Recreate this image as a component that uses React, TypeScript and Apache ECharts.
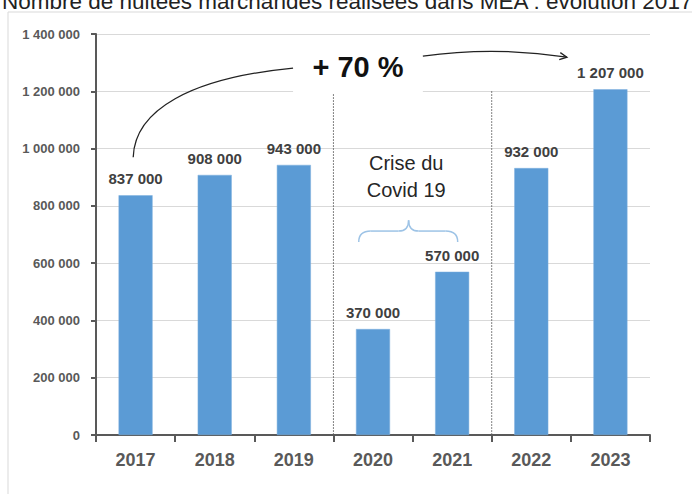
import React, { useEffect, useRef } from "react";
import * as echarts from "echarts";

const years = ["2017", "2018", "2019", "2020", "2021", "2022", "2023"];
const nuitees = [837000, 908000, 943000, 370000, 570000, 932000, 1207000];
const yMax = 1400000;
const yStep = 200000;
const titleText = "Nombre de nuitées marchandes réalisées dans MEA : évolution 2017";
const growthText = "+ 70 %";
const crisisLines = ["Crise du", "Covid 19"];

const fmt = (v: number) => String(v).replace(/\B(?=(\d{3})+(?!\d))/g, " ");
const FONT = "'Liberation Sans', Arial, sans-serif";

export default function App() {
  const ref = useRef<HTMLDivElement>(null);
  useEffect(() => {
    if (!ref.current) return;
    const chart = echarts.init(ref.current, null, { renderer: "svg" });
    chart.setOption({
      animation: false,
      backgroundColor: "#ffffff",
      grid: { left: 96, right: 42, top: 34, bottom: 59, containLabel: false },
      xAxis: {
        type: "category",
        data: years,
        boundaryGap: true,
        axisLine: { lineStyle: { color: "#595959", width: 2 } },
        axisTick: { show: true, alignWithLabel: false, length: 7, lineStyle: { color: "#595959", width: 2 } },
        axisLabel: { margin: 16, color: "#595959", fontSize: 18, fontWeight: "bold", fontFamily: FONT },
        splitLine: { show: false },
      },
      yAxis: {
        type: "value",
        min: 0,
        max: yMax,
        interval: yStep,
        axisLine: { show: true, lineStyle: { color: "#595959", width: 2 } },
        axisTick: { show: true, length: 5, lineStyle: { color: "#595959", width: 2 } },
        axisLabel: { margin: 16, color: "#595959", fontSize: 13, fontWeight: "bold", fontFamily: FONT, formatter: (v: number) => fmt(v) },
        splitLine: { show: true, lineStyle: { color: "#d9d9d9", width: 1 } },
      },
      series: [
        {
          type: "bar",
          data: nuitees,
          barWidth: "43%",
          itemStyle: { color: "#5b9bd5", borderColor: "#7eb0de", borderWidth: 0.5 },
          label: {
            show: true,
            position: "top",
            distance: 9,
            color: "#404040",
            fontSize: 15,
            fontWeight: "bold",
            fontFamily: FONT,
            formatter: (p: any) => fmt(p.value),
          },
        },
      ],
    });

    const x0 = chart.convertToPixel({ xAxisIndex: 0 }, 0) as number;
    const x1 = chart.convertToPixel({ xAxisIndex: 0 }, 1) as number;
    const X = (i: number) => x0 + i * (x1 - x0);
    const Y = (v: number) => chart.convertToPixel({ yAxisIndex: 0 }, v) as number;

    // arrow geometry
    const ax = X(5.45), ay = Y(1319000);
    const cx = X(4.54), cy = Y(1358000);
    const ang = Math.atan2(ay - cy, ax - cx);
    const wing = (d: number) => [ax - 8 * Math.cos(ang + d), ay - 8 * Math.sin(ang + d)];

    const braceL = X(2.82), braceR = X(4.07), braceC = X(3.45);
    const yb = Y(674000), ym = Y(712000), yt = Y(750000);
    const braceStyle = { stroke: "#9dc3e6", lineWidth: 1.5, fill: null };

    chart.setOption({
      graphic: [
        {
          type: "text",
          x: 2,
          y: 1,
          style: { text: titleText, fill: "#222", font: `22.5px ${FONT}`, textVerticalAlign: "middle" },
        },
        {
          type: "rect",
          shape: { x: 8, y: 12, width: 720, height: 520 },
          style: { stroke: "#d9d9d9", lineWidth: 1, fill: null },
          z: -1,
        },
        // dotted separators
        {
          type: "line",
          shape: { x1: X(2.5), y1: Y(1200000), x2: X(2.5), y2: Y(0) },
          style: { stroke: "#595959", lineWidth: 1, lineDash: [1.5, 1.5] },
        },
        {
          type: "line",
          shape: { x1: X(4.5), y1: Y(1200000), x2: X(4.5), y2: Y(0) },
          style: { stroke: "#595959", lineWidth: 1, lineDash: [1.5, 1.5] },
        },
        // white box behind growth label
        {
          type: "rect",
          shape: { x: X(1.99), y: Y(1379000), width: X(3.63) - X(1.99), height: Y(1194000) - Y(1379000) },
          style: { fill: "#ffffff" },
          z: 50,
        },
        {
          type: "text",
          x: X(2.81),
          y: Y(1284000),
          z: 51,
          style: { text: growthText, fill: "#111", font: `bold 29px ${FONT}`, textAlign: "center", textVerticalAlign: "middle" },
        },
        // left curve
        {
          type: "bezierCurve",
          z: 51,
          shape: {
            x1: X(-0.03), y1: Y(970000),
            cpx1: X(-0.01), cpy1: Y(1134000),
            cpx2: X(0.69), cpy2: Y(1246000),
            x2: X(1.99), y2: Y(1281000),
          },
          style: { stroke: "#222", lineWidth: 1.3, fill: null },
        },
        // right arrow
        {
          type: "bezierCurve",
          z: 51,
          shape: { x1: X(3.63), y1: Y(1323000), cpx1: cx, cpy1: cy, x2: ax, y2: ay },
          style: { stroke: "#222", lineWidth: 1.3, fill: null },
        },
        {
          type: "polyline",
          z: 51,
          shape: { points: [wing(0.45), [ax, ay], wing(-0.45)] },
          style: { stroke: "#222", lineWidth: 1.3, fill: null },
        },
        // crisis text
        {
          type: "text",
          x: X(3.42),
          y: Y(949000),
          style: { text: crisisLines[0], fill: "#262626", font: `20px ${FONT}`, textAlign: "center", textVerticalAlign: "middle" },
        },
        {
          type: "text",
          x: X(3.42),
          y: Y(855000),
          style: { text: crisisLines[1], fill: "#262626", font: `20px ${FONT}`, textAlign: "center", textVerticalAlign: "middle" },
        },
        // brace
        { type: "bezierCurve", shape: { x1: braceL, y1: yb, cpx1: braceL, cpy1: ym, x2: braceL + 12, y2: ym }, style: braceStyle },
        { type: "line", shape: { x1: braceL + 12, y1: ym, x2: braceC - 10, y2: ym }, style: braceStyle },
        { type: "bezierCurve", shape: { x1: braceC - 10, y1: ym, cpx1: braceC, cpy1: ym, x2: braceC, y2: yt }, style: braceStyle },
        { type: "bezierCurve", shape: { x1: braceC, y1: yt, cpx1: braceC, cpy1: ym, x2: braceC + 10, y2: ym }, style: braceStyle },
        { type: "line", shape: { x1: braceC + 10, y1: ym, x2: braceR - 12, y2: ym }, style: braceStyle },
        { type: "bezierCurve", shape: { x1: braceR - 12, y1: ym, cpx1: braceR, cpy1: ym, x2: braceR, y2: yb }, style: braceStyle },
      ],
    });

    return () => chart.dispose();
  }, []);
  return <div ref={ref} style={{ position: "fixed", left: 0, top: 0, width: 692, height: 494 }} />;
}
